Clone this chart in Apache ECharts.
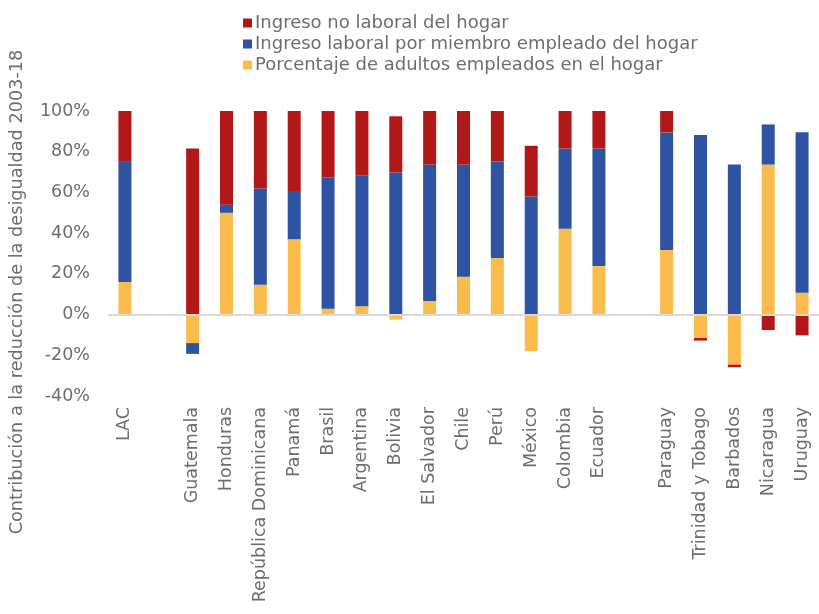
<!DOCTYPE html>
<html>
<head>
<meta charset="utf-8">
<script src="https://cdn.jsdelivr.net/npm/echarts@6/dist/echarts.min.js"></script>
<style>html,body{margin:0;padding:0;background:#fff}#c{width:819px;height:614px}</style>
</head>
<body>
<div id="c"></div>
<script>
const categories = ['LAC','','Guatemala','Honduras','República Dominicana','Panamá','Brasil','Argentina','Bolivia','El Salvador','Chile','Perú','México','Colombia','Ecuador','','Paraguay','Trinidad y Tobago','Barbados','Nicaragua','Uruguay'];
const adultosEmpleados = [16, null, -14, 50, 14.6, 37, 2.8, 4.1, -2.5, 6.7, 18.6, 27.8, -18, 42.2, 23.8, null, 31.7, -11.5, -24.6, 73.7, 10.7];
const ingresoLaboral   = [59, null, -5.3, 4, 47.3, 23.7, 64.5, 64.4, 69.8, 67, 55.1, 47.4, 58, 39.4, 57.8, null, 57.8, 88.2, 73.7, 19.7, 78.8];
const ingresoNoLaboral = [25, null, 81.6, 46, 38.1, 39.4, 32.7, 31.5, 27.6, 26.3, 26.3, 24.8, 24.9, 18.4, 18.4, null, 10.5, -1.3, -1.3, -7.6, -10.2];
const yTicks = [-40, -20, 0, 20, 40, 60, 80, 100];
const seriesNames = ['Ingreso no laboral del hogar','Ingreso laboral por miembro empleado del hogar','Porcentaje de adultos empleados en el hogar'];
const axisTitle = 'Contribución a la reducción de la desigualdad 2003-18';

const FONT = '"DejaVu Sans", sans-serif';
const GRAY = '#6f6d6d';
const FS = 17.5;
const chart = echarts.init(document.getElementById('c'), null, {renderer: 'canvas'});
chart.setOption({
  animation: false,
  textStyle: {fontFamily: FONT},
  legend: {
    orient: 'vertical', left: 238, top: 8,
    itemWidth: 9, itemHeight: 9, itemGap: 1,
    icon: 'rect',
    data: [seriesNames[0], seriesNames[1], seriesNames[2]],
    textStyle: {fontFamily: FONT, fontSize: 18, color: GRAY, lineHeight: 20, padding: [0,0,0,-2]}
  },
  grid: {left: 108, right: -9, top: 111, bottom: 218, containLabel: false},
  xAxis: {
    type: 'category', data: categories,
    axisLine: {show: false}, axisTick: {show: false},
    axisLabel: {interval: 0, rotate: 90, margin: 11, fontSize: FS, color: GRAY, fontFamily: FONT}
  },
  yAxis: {
    type: 'value', min: yTicks[0], max: yTicks[yTicks.length-1], interval: 20,
    splitLine: {show: false}, axisLine: {show: false}, axisTick: {show: false},
    axisLabel: {formatter: v => v + '%', fontSize: FS, color: GRAY, margin: 18, fontFamily: FONT}
  },
  graphic: [{
    type: 'text', x: 17, y: 292, rotation: Math.PI/2,
    style: {text: axisTitle, fontSize: 17.7, fontFamily: FONT, fill: GRAY, align: 'center', verticalAlign: 'middle'}
  }],
  series: [
    {name: seriesNames[2], type: 'bar', stack: 's', barWidth: 13, data: adultosEmpleados, itemStyle: {color: '#FBBC4E'},
     markLine: {silent: true, symbol: 'none', label: {show: false}, lineStyle: {color: '#d9d9d9', width: 2, type: 'solid'}, data: [{yAxis: 0}]}},
    {name: seriesNames[1], type: 'bar', stack: 's', barWidth: 13, data: ingresoLaboral, itemStyle: {color: '#2E53A1'}},
    {name: seriesNames[0], type: 'bar', stack: 's', barWidth: 13, data: ingresoNoLaboral, itemStyle: {color: '#B21818'}}
  ]
});
</script>
</body>
</html>
